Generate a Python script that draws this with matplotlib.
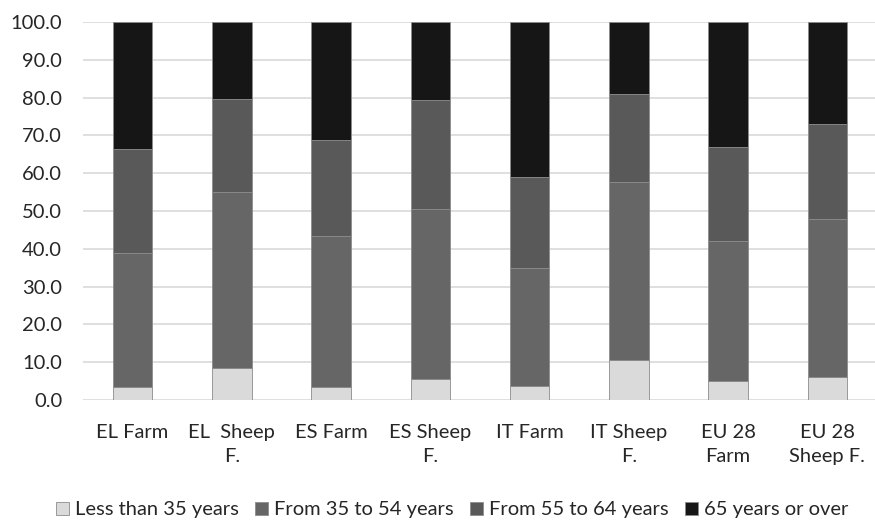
import matplotlib.pyplot as plt
import numpy as np

# age structure of farm holders, % of holders in each class
categories = ["EL Farm", "EL  Sheep\nF.", "ES Farm", "ES Sheep\nF.",
              "IT Farm", "IT Sheep\nF.", "EU 28\nFarm", "EU 28\nSheep F."]
age_classes = ["Less than 35 years", "From 35 to 54 years",
               "From 55 to 64 years", "65 years or over"]
under_35 = [3.4, 8.4, 3.5, 5.5, 3.8, 10.7, 4.9, 6.1]
from_35_54 = [35.4, 46.7, 39.9, 45.1, 31.2, 46.9, 37.2, 41.7]
from_55_64 = [27.6, 24.6, 25.4, 28.8, 24.0, 23.3, 24.9, 25.3]
over_65 = [33.6, 20.3, 31.2, 20.6, 41.0, 19.1, 33.0, 26.9]

colors = ["#d9dad9", "#666666", "#595959", "#161616"]

plt.rcParams['font.family'] = ['Lato', 'DejaVu Sans']

fig = plt.figure(figsize=(8.75, 5.21), dpi=100)
ax = fig.add_axes([83 / 875, 121 / 521, 792 / 875, 378 / 521])

x = np.arange(len(categories))
bottom = np.zeros(len(categories))
for label, vals, c in zip(age_classes, [under_35, from_35_54, from_55_64, over_65], colors):
    ax.bar(x, vals, 0.4, bottom=bottom, color=c, edgecolor="#8c8c8c",
           linewidth=0.6, label=label, zorder=3)
    bottom += np.array(vals)

ax.set_ylim(0, 100)
ax.set_xlim(-0.5, 7.48)
ax.set_yticks(np.arange(0, 101, 10))
ax.set_yticklabels([f"{v:.1f}" for v in range(0, 101, 10)])
ax.set_xticks(x)
ax.set_xticklabels(categories, linespacing=1.55)
ax.yaxis.grid(True, color="#d9d9d9", linewidth=1.2, zorder=0)
ax.set_axisbelow(True)
for s in ax.spines.values():
    s.set_visible(False)
ax.tick_params(axis="both", length=0, labelsize=14.5, colors="#262626")
ax.tick_params(axis="x", pad=17)
ax.tick_params(axis="y", pad=15)

fig.legend(loc="center", bbox_to_anchor=(452 / 875, 1 - 510 / 521), ncol=4,
           frameon=False, fontsize=14.5, handlelength=0.65, handleheight=0.65,
           handletextpad=0.3, columnspacing=0.8, labelcolor="#262626")

fig.savefig("out.png", dpi=100)
